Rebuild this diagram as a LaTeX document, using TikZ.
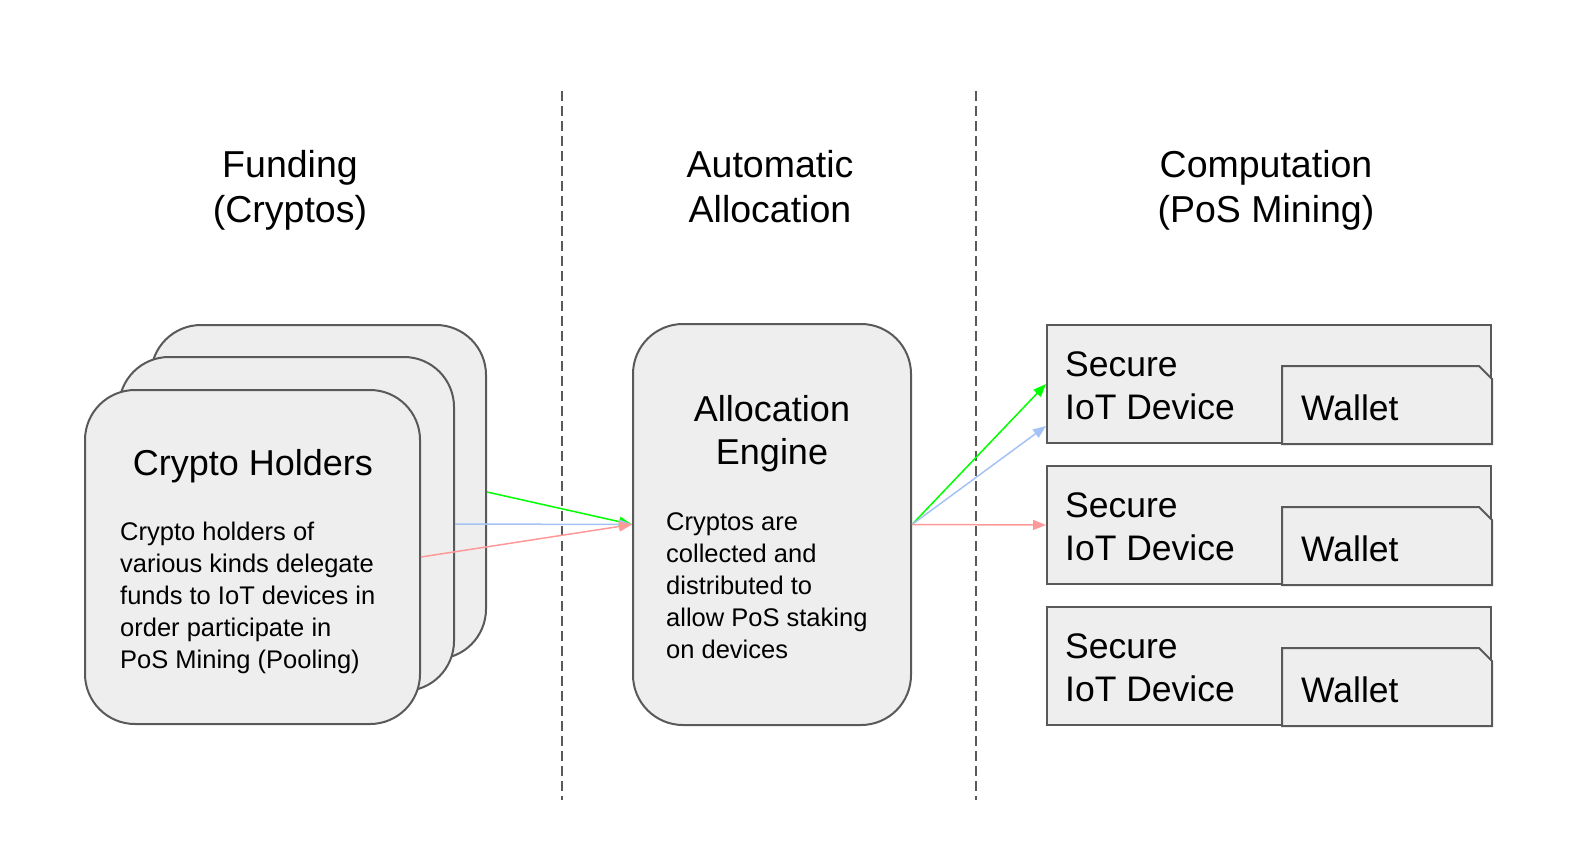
\documentclass[tikz,border=0pt]{standalone}
\usepackage{fontspec}
\setmainfont{Liberation Sans}
\usetikzlibrary{arrows.meta,calc}
\definecolor{boxfill}{HTML}{EEEEEE}
\definecolor{boxline}{HTML}{595959}
\definecolor{agreen}{HTML}{00FF00}
\definecolor{ablue}{HTML}{A4C2F4}
\definecolor{ared}{HTML}{FF9999}
\begin{document}
\begin{tikzpicture}[x=1pt,y=-1pt,
  card/.style={draw=boxline,fill=boxfill,line width=2pt,rounded corners=50pt,
    minimum width=335pt,minimum height=334pt,inner sep=0pt},
  engine/.style={draw=boxline,fill=boxfill,line width=2pt,rounded corners=50pt,
    minimum width=278pt,minimum height=401pt,inner sep=0pt},
  device/.style={draw=boxline,fill=boxfill,line width=2pt,
    minimum width=444pt,minimum height=118pt,inner sep=0pt},
  walletbox/.style={draw=boxline,fill=boxfill,line width=2pt,line join=miter},
  divider/.style={draw=boxline,line width=2pt,dash pattern=on 10pt off 5pt},
  title/.style={font=\fontsize{37.5}{44.5}\selectfont,align=center,inner sep=0pt,anchor=base},
  boxtitle/.style={font=\fontsize{36}{43}\selectfont,align=center,inner sep=0pt,anchor=base},
  body/.style={font=\fontsize{25.5}{32}\selectfont,align=left,inner sep=0pt,anchor=base west},
  devtext/.style={font=\fontsize{35.5}{43}\selectfont,align=left,inner sep=0pt,anchor=base west},
  flow/.style={line width=1.5pt,-{Triangle[length=13pt,width=10pt]}}
]
\useasboundingbox (0,0) rectangle (1584,867);

% dividers
\coordinate (d1t) at (562,91);
\coordinate (d1b) at (562,800);
\coordinate (d2t) at (976,91);
\coordinate (d2b) at (976,800);
\draw[divider] (d1t) -- (d1b);
\draw[divider] (d2t) -- (d2b);

% titles (base anchor = baseline of last line)
\node[title] (tfund) at (290,222) {Funding\\(Cryptos)};
\node[title] (talloc) at (770,222) {Automatic\\Allocation};
\node[title] (tcomp) at (1266,222) {Computation\\(PoS Mining)};

% crypto holder cards
\node[card] (back) at (318.5,492) {};
\node[card] (mid) at (286.5,524) {};
\node[card] (front) at (252.5,557) {};
\node[boxtitle] (chT) at (253,475) {Crypto Holders};
\node[body] (chB) at (120,668) {Crypto holders of\\various kinds delegate\\funds to IoT devices in\\order participate in\\PoS Mining (Pooling)};

% allocation engine
\node[engine] (eng) at (772,524.5) {};
\node[boxtitle] (engT) at (772,464) {Allocation\\Engine};
\node[body] (engB) at (666,658) {Cryptos are\\collected and\\distributed to\\allow PoS staking\\on devices};

% devices
\foreach \i/\cy in {1/384,2/525,3/666}{
  \node[device] (dev\i) at (1269,\cy) {};
  \draw[walletbox] ($(dev\i.north west)+(236,42)$) -- ($(dev\i.north east)+(-13,42)$)
     -- ($(dev\i.north east)+(0,55)$) -- (dev\i.south east) -- ($(dev\i.south west)+(236,0)$) -- cycle;
  \node[devtext] (sec\i) at ($(dev\i.north west)+(19,95)$) {Secure\\IoT Device};
  \node[devtext] (wal\i) at ($(dev\i.north west)+(255,96)$) {Wallet};
}

% connectors
\draw[flow,agreen] (back.east) -- (eng.west);
\draw[flow,ablue] (mid.east) -- (eng.west);
\draw[flow,ared] (front.east) -- (eng.west);
\draw[flow,agreen] (eng.east) -- (dev1.west);
\draw[flow,ablue] (eng.east) -- ($(dev1.west)+(0,42)$);
\draw[flow,ared] (eng.east) -- (dev2.west);
\end{tikzpicture}
\end{document}
